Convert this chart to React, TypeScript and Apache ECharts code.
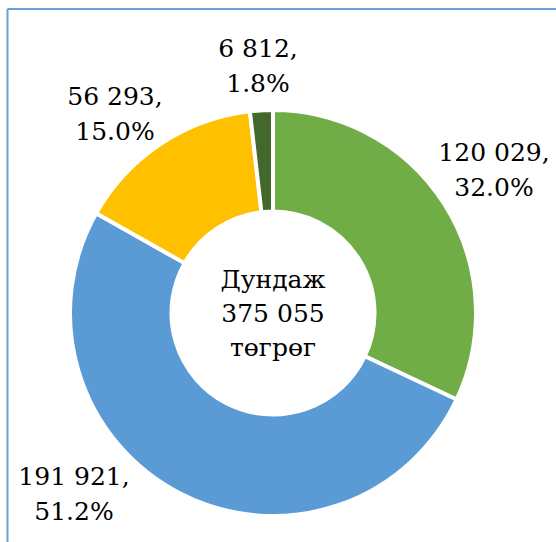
import React, { useEffect, useRef } from "react";
import * as echarts from "echarts";

const categories = ["A", "B", "C", "D"];
const values = [120029, 191921, 56293, 6812];
const colors = ["#70AD47", "#5B9BD5", "#FFC000", "#43682B"];
const centerWords = ["Дундаж", "төгрөг"];
const labelSpots = [
  [494, 170],
  [74, 494],
  [115, 114],
  [258, 66],
];

const fmt = (n: number) => String(n).replace(/\B(?=(\d{3})+(?!\d))/g, " ");

export default function App() {
  const ref = useRef<HTMLDivElement>(null);
  useEffect(() => {
    document.body.style.margin = "0";
    if (!ref.current) return;
    const chart = echarts.init(ref.current, null, { renderer: "svg" });
    const total = values.reduce((a, b) => a + b, 0);
    const font = "DejaVu Serif";
    chart.setOption({
      animation: false,
      backgroundColor: "#ffffff",
      textStyle: { fontFamily: font },
      graphic: [
        {
          type: "line",
          shape: { x1: 7.5, y1: 9, x2: 556, y2: 9 },
          style: { stroke: "#6A9FD8", lineWidth: 2 },
        },
        {
          type: "line",
          shape: { x1: 7.5, y1: 9, x2: 7.5, y2: 542 },
          style: { stroke: "#6A9FD8", lineWidth: 2 },
        },
        {
          type: "text",
          x: 273,
          y: 313,
          style: {
            text: `${centerWords[0]}\n${fmt(total)}\n${centerWords[1]}`,
            fontFamily: font,
            fontSize: 25,
            lineHeight: 34,
            fill: "#000",
            align: "center",
            verticalAlign: "middle",
          },
        },
      ],
      series: [
        {
          type: "pie",
          center: [273, 313],
          radius: [101.5, 203],
          startAngle: 90,
          clockwise: true,
          avoidLabelOverlap: false,
          itemStyle: { borderColor: "#ffffff", borderWidth: 4 },
          label: {
            show: true,
            position: "outside",
            formatter: (p: any) =>
              `${fmt(p.value)},\n${((p.value / total) * 100).toFixed(1)}%`,
            fontFamily: font,
            fontSize: 25,
            lineHeight: 35,
            color: "#000",
            align: "center",
          },
          labelLine: { show: false },
          labelLayout: (p: any) => ({
            x: labelSpots[p.dataIndex][0],
            y: labelSpots[p.dataIndex][1],
            align: "center",
            verticalAlign: "middle",
          }),
          emphasis: { disabled: true },
          data: categories.map((c, i) => ({
            name: c,
            value: values[i],
            itemStyle: { color: colors[i] },
          })),
        },
      ],
    });
    return () => chart.dispose();
  }, []);
  return <div ref={ref} style={{ width: 556, height: 542 }} />;
}
